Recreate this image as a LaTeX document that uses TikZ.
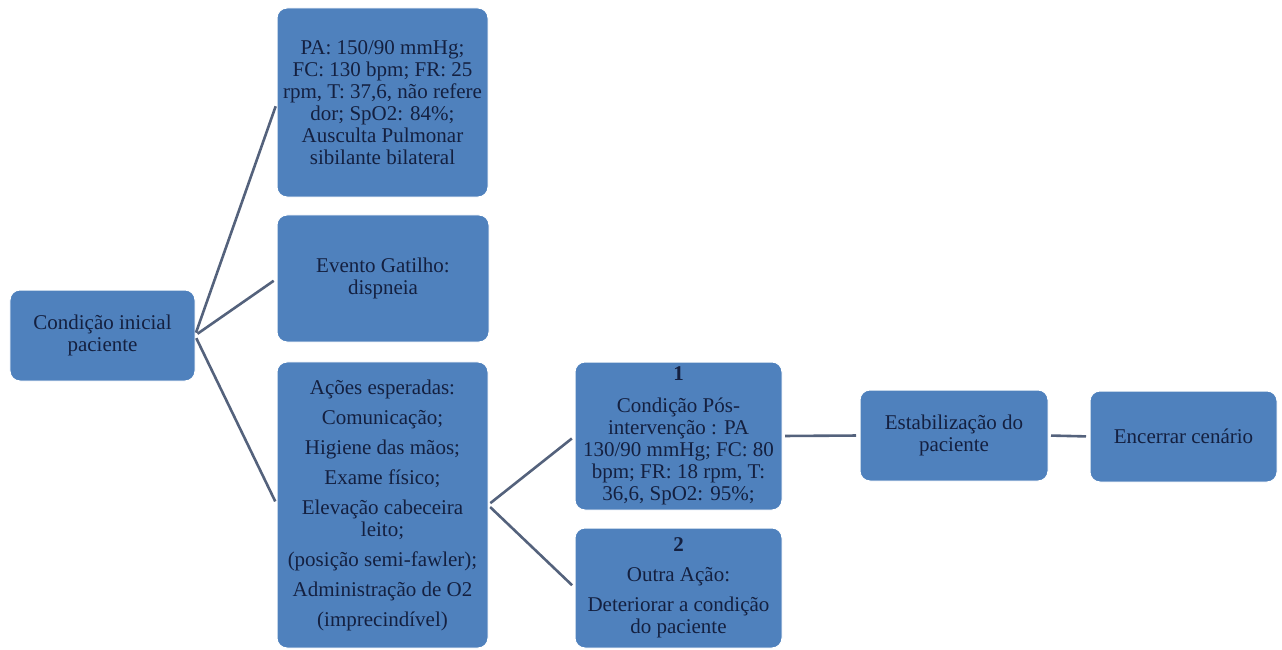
\documentclass[tikz,border=0pt]{standalone}
\usepackage{fontspec}
\setmainfont{Liberation Serif}
\definecolor{boxfill}{RGB}{79,129,189}
\definecolor{boxtext}{RGB}{20,32,64}
\definecolor{linkcol}{RGB}{84,98,124}
\tikzset{
  card/.style={draw=white, line width=1bp, fill=boxfill, rounded corners=10bp,
    text=boxtext, align=center, inner sep=0pt, outer sep=0pt,
    font=\fontsize{21bp}{22bp}\selectfont},
  link/.style={draw=linkcol, line width=2.6bp, shorten <=3bp, shorten >=4bp}
}
\begin{document}
\begin{tikzpicture}[x=1bp,y=-1bp]
\useasboundingbox (0,0) rectangle (1282,650);
\node[card, minimum width=185bp, minimum height=91bp] (A) at (102.5,335.5)
  {Condição inicial\\paciente};
\node[card, minimum width=211bp, minimum height=189bp] (B) at (382.5,102.5)
  {PA: 150/90 mmHg;\\FC: 130 bpm; FR: 25\\rpm, T: 37,6, não refere\\dor; SpO2: 84\%;\\Ausculta Pulmonar\\sibilante bilateral};
\node[card, minimum width=212bp, minimum height=127bp] (C) at (383,278.5)
  {Evento Gatilho:\\dispneia};
\node[card, minimum width=211bp, minimum height=286bp] (D) at (382.5,505)
  {Ações esperadas:\\[8bp]Comunicação;\\[8bp]Higiene das mãos;\\[8bp]Exame físico;\\[8bp]Elevação cabeceira\\leito;\\[8bp](posição semi-fawler);\\[8bp]Administração de O2\\[8bp](imprecindível)};
\node[card, minimum width=207bp, minimum height=148bp] (E) at (678.5,436)
  {\textbf{1}\\[10bp]Condição Pós-\\intervenção : PA\\130/90 mmHg; FC: 80\\bpm; FR: 18 rpm, T:\\36,6, SpO2: 95\%;};
\node[card, minimum width=207bp, minimum height=120bp] (F) at (678.5,588)
  {\textbf{2}\\[8bp]Outra Ação:\\[8bp]Deteriorar a condição\\do paciente};
\node[card, minimum width=188bp, minimum height=91bp] (G) at (954,435.5)
  {Estabilização do\\paciente};
\node[card, minimum width=187bp, minimum height=91bp] (H) at (1183.5,436.5)
  {Encerrar cenário};
\draw[link] (A.east) -- (B.west);
\draw[link] (A.east) -- (C.west);
\draw[link] (A.east) -- (D.west);
\draw[link] (D.east) -- (E.west);
\draw[link] (D.east) -- (F.west);
\draw[link] (E.east) -- (G.west);
\draw[link] (G.east) -- (H.west);
\end{tikzpicture}
\end{document}
